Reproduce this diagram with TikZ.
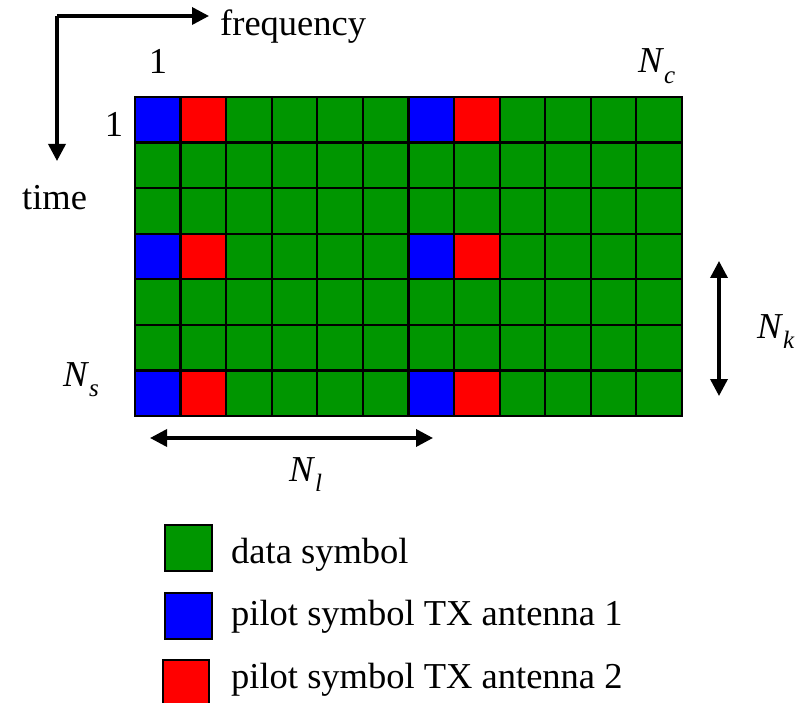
\documentclass[tikz,border=0pt]{standalone}
\usepackage{fontspec}
\setmainfont{Liberation Serif}
\usetikzlibrary{arrows.meta}
\definecolor{datagreen}{RGB}{0,150,0}
\definecolor{pilotblue}{RGB}{0,0,255}
\definecolor{pilotred}{RGB}{255,0,0}
\newcommand{\symN}[1]{\textit{N}\raisebox{-0.28em}{\fontsize{25}{25}\selectfont\textit{#1}}}
\tikzset{
  lbl/.style={inner sep=0pt, font=\fontsize{36.5}{44}\selectfont},
  cellbox/.style={draw=black, line width=2.2pt},
  axisarrow/.style={line width=3.5pt, -{Triangle[length=17pt,width=17pt]}},
  dimarrow/.style={line width=3.5pt, {Triangle[length=17pt,width=17pt]}-{Triangle[length=17pt,width=17pt]}},
}
\begin{document}
\begin{tikzpicture}[x=1pt,y=-1pt]
\useasboundingbox (0,0) rectangle (806,703);
% grid
\def\cw{45.58}
\foreach \r in {0,...,6}{
  \foreach \c in {0,...,11}{
    \pgfmathsetmacro{\xa}{135+\c*\cw}
    \pgfmathsetmacro{\ya}{97+\r*\cw}
    \def\col{datagreen}
    \ifnum\r=0 \ifnum\c=0 \def\col{pilotblue}\fi\ifnum\c=6 \def\col{pilotblue}\fi\ifnum\c=1 \def\col{pilotred}\fi\ifnum\c=7 \def\col{pilotred}\fi\fi
    \ifnum\r=3 \ifnum\c=0 \def\col{pilotblue}\fi\ifnum\c=6 \def\col{pilotblue}\fi\ifnum\c=1 \def\col{pilotred}\fi\ifnum\c=7 \def\col{pilotred}\fi\fi
    \ifnum\r=6 \ifnum\c=0 \def\col{pilotblue}\fi\ifnum\c=6 \def\col{pilotblue}\fi\ifnum\c=1 \def\col{pilotred}\fi\ifnum\c=7 \def\col{pilotred}\fi\fi
    \filldraw[cellbox, fill=\col] (\xa,\ya) rectangle ++(\cw,\cw);
  }
}
% axes
\coordinate (corner) at (57,16);
\coordinate (freqend) at (209,16);
\coordinate (timeend) at (57,161);
\draw[axisarrow, line join=miter] (timeend |- corner) -- (freqend);
\draw[axisarrow] (corner) -- (timeend);
\node[lbl, anchor=base west] (freq) at (220,36) {frequency};
\node[lbl, anchor=base west] (time) at (22,210) {time};
\node[lbl] (onetop) at (158,61) {1};
\node[lbl] (oneleft) at (114,124) {1};
\node[lbl, anchor=base west] (Nc) at (638,73) {\symN{c}};
\node[lbl, anchor=base west] (Ns) at (63,386) {\symN{s}};
\node[lbl, anchor=base west] (Nl) at (289,481) {\symN{l}};
\node[lbl, anchor=base west] (Nk) at (757,338) {\symN{k}};
% dimension arrows
\coordinate (nlL) at (150,438);
\coordinate (nlR) at (433,438);
\draw[dimarrow] (nlL) -- (nlR);
\coordinate (nkT) at (719,261);
\coordinate (nkB) at (719,396);
\draw[dimarrow] (nkT) -- (nkB);
% legend
\filldraw[cellbox, fill=datagreen] (165,525) rectangle (212,571);
\filldraw[cellbox, fill=pilotblue] (165,593) rectangle (212,639);
\filldraw[cellbox, fill=pilotred] (163,660) rectangle (209,706);
\node[lbl, anchor=base west] (lg1) at (231,563) {data symbol};
\node[lbl, anchor=base west] (lg2) at (231,625) {pilot symbol TX antenna 1};
\node[lbl, anchor=base west] (lg3) at (231,688) {pilot symbol TX antenna 2};
\end{tikzpicture}
\end{document}
